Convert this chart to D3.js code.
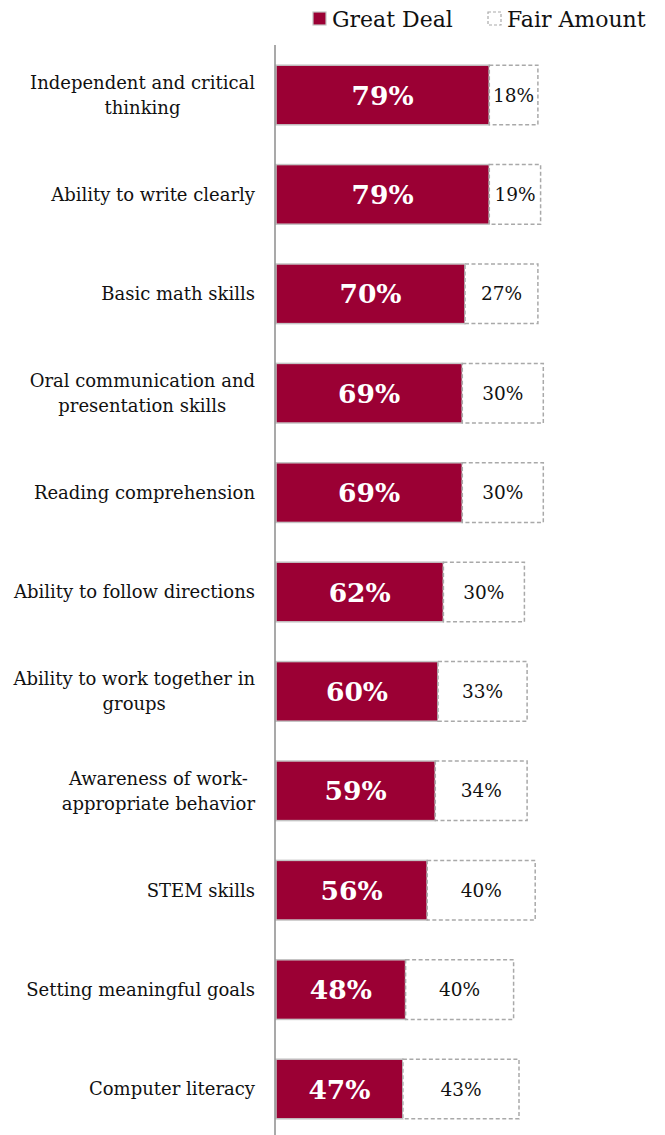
<!DOCTYPE html>
<html>
<head>
<meta charset="utf-8">
<script src="https://cdn.jsdelivr.net/npm/d3@7"></script>
<style>
  html, body { margin: 0; padding: 0; background: #fff; }
  svg { display: block; }
</style>
</head>
<body>
<svg id="chart" width="665" height="1135"></svg>
<script>
// Skills: share saying each matters a "great deal" vs a "fair amount"
const categories = [
  ["Independent and critical", "thinking"],
  ["Ability to write clearly"],
  ["Basic math skills"],
  ["Oral communication and", "presentation skills"],
  ["Reading comprehension"],
  ["Ability to follow directions"],
  ["Ability to work together in", "groups"],
  ["Awareness of work-", "appropriate behavior"],
  ["STEM skills"],
  ["Setting meaningful goals"],
  ["Computer literacy"]
];
const greatDeal = [79, 79, 70, 69, 69, 62, 60, 59, 56, 48, 47];
const fairAmount = [18, 19, 27, 30, 30, 30, 33, 34, 40, 40, 43];
const seriesNames = ["Great Deal", "Fair Amount"];

const FONT = "'DejaVu Serif', 'Liberation Serif', serif";
const RED = "#9b0034";

const svg = d3.select("#chart");
const keys = categories.map((c, i) => i);

const y = d3.scaleBand()
  .domain(keys)
  .range([45.3, 1138.7])
  .paddingInner(0.4)
  .paddingOuter(0.2);

const x = d3.scaleLinear().domain([0, 100]).range([276, 546]);

const rows = svg.append("g").selectAll("g")
  .data(keys)
  .join("g");

// Great Deal segment
rows.append("rect")
  .attr("x", x(0))
  .attr("y", i => y(i))
  .attr("width", i => x(greatDeal[i]) - x(0))
  .attr("height", y.bandwidth())
  .attr("fill", RED)
  .attr("stroke", "#c4c4c4")
  .attr("stroke-width", 1.5);

// Fair Amount segment
rows.append("rect")
  .attr("x", i => x(greatDeal[i]))
  .attr("y", i => y(i))
  .attr("width", i => x(greatDeal[i] + fairAmount[i]) - x(greatDeal[i]))
  .attr("height", y.bandwidth())
  .attr("fill", "#fff")
  .attr("stroke", "#a9a9a9")
  .attr("stroke-width", 1.5)
  .attr("stroke-dasharray", "4,2.5");

// value labels
rows.append("text")
  .attr("x", i => (x(0) + x(greatDeal[i])) / 2)
  .attr("y", i => y(i) + y.bandwidth() / 2)
  .attr("dy", "0.36em")
  .attr("text-anchor", "middle")
  .attr("fill", "#fff")
  .attr("font-family", FONT)
  .attr("font-weight", "bold")
  .attr("font-size", 26.5)
  .text(i => greatDeal[i] + "%");

rows.append("text")
  .attr("x", i => (x(greatDeal[i]) + x(greatDeal[i] + fairAmount[i])) / 2)
  .attr("y", i => y(i) + y.bandwidth() / 2)
  .attr("dy", "0.36em")
  .attr("text-anchor", "middle")
  .attr("fill", "#111")
  .attr("font-family", FONT)
  .attr("font-size", 18.5)
  .text(i => fairAmount[i] + "%");

// category labels: lines centred on each other, right edge at 255
const labelRight = 255;
const lineGap = 25;
rows.each(function (i) {
  const lines = categories[i];
  const g = d3.select(this).append("g");
  const texts = g.selectAll("text").data(lines).join("text")
    .attr("font-family", FONT)
    .attr("font-size", 18)
    .attr("fill", "#111")
    .attr("text-anchor", "middle")
    .attr("dy", "0.36em")
    .text(d => d);
  let maxW = 0;
  texts.each(function () { maxW = Math.max(maxW, this.getComputedTextLength()); });
  const cy = y(i) + y.bandwidth() / 2;
  const top = cy - (lines.length - 1) * lineGap / 2;
  texts.attr("x", labelRight - maxW / 2)
    .attr("y", (d, k) => top + k * lineGap);
});

// vertical category axis
const yAxis = d3.axisLeft(y).tickSize(0).tickFormat("");
svg.append("g")
  .attr("transform", `translate(275,0)`)
  .call(yAxis)
  .call(g => g.select(".domain").attr("d", "M0,45V1135").attr("stroke", "#8c8c8c").attr("stroke-width", 1.5));

// legend
const legend = svg.append("g").attr("font-family", FONT).attr("font-size", 22);
const legendItems = [
  { name: seriesNames[0], sx: 313, tx: 332, fill: RED, stroke: "#c4c4c4", dash: null },
  { name: seriesNames[1], sx: 488, tx: 507, fill: "#fff", stroke: "#a9a9a9", dash: "3,2" }
];
legendItems.forEach(d => {
  legend.append("rect")
    .attr("x", d.sx).attr("y", 12).attr("width", 13).attr("height", 13)
    .attr("fill", d.fill).attr("stroke", d.stroke).attr("stroke-width", 1.2)
    .attr("stroke-dasharray", d.dash);
  legend.append("text")
    .attr("x", d.tx).attr("y", 19).attr("dy", "0.36em")
    .attr("fill", "#111")
    .text(d.name);
});
</script>
</body>
</html>
